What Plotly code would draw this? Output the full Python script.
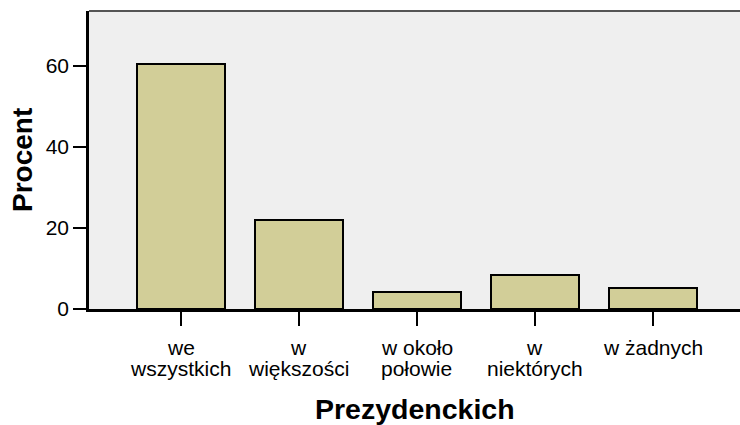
import plotly.graph_objects as go

categories = ["we<br>wszystkich", "w<br>większości", "w około<br>połowie", "w<br>niektórych", "w żadnych"]
values = [60.5, 22.0, 4.2, 8.4, 5.2]
y_ticks = [0, 20, 40, 60]

font = "Liberation Sans, Arial, sans-serif"

fig = go.Figure()
fig.add_trace(go.Bar(
    x=categories, y=values, width=0.75,
    marker=dict(color="#D2CE98", line=dict(color="black", width=2)),
    hoverinfo="skip",
))

fig.update_layout(
    width=740, height=425,
    margin=dict(l=89, r=0, t=11, b=116, autoexpand=False),
    paper_bgcolor="white", plot_bgcolor="#EFEFEF",
    showlegend=False,
    font=dict(family=font, size=21, color="black"),
    bargap=0,
)
fig.update_xaxes(
    type="category", range=[-0.78, 4.74], automargin=False,
    showline=True, linecolor="black", linewidth=2.5,
    ticks="outside", ticklen=14, tickwidth=2, tickcolor="black",
    showgrid=False, zeroline=False, showticklabels=False,
)
fig.update_yaxes(
    range=[0, 73.6], tickvals=y_ticks, automargin=False,
    showline=True, linecolor="black", linewidth=2.5,
    ticks="outside", ticklen=13, tickwidth=2, tickcolor="black",
    showgrid=False, zeroline=False,
    tickfont=dict(size=21),
)

# category labels, one annotation per line (tight line spacing as in reference)
for cat in categories:
    lines = cat.split("<br>")
    for i, line in enumerate(lines):
        fig.add_annotation(
            x=cat, xref="x", y=0, yref="paper",
            text=line, showarrow=False,
            xanchor="center", yanchor="middle",
            yshift=-38 - 21 * i,
            font=dict(size=21, family=font, color="black"),
        )

# axis titles
fig.add_annotation(
    x=0.5, xref="paper", y=0, yref="paper",
    text="<b>Prezydenckich</b>", showarrow=False,
    xanchor="center", yanchor="middle", yshift=-100,
    font=dict(size=28.5, family=font, color="black"),
)
fig.add_annotation(
    x=-67 / 651, xref="paper", y=0.5, yref="paper",
    text="<b>Procent</b>", showarrow=False, textangle=-90,
    xanchor="center", yanchor="middle",
    font=dict(size=28, family=font, color="black"),
)

fig.add_shape(type="line", xref="paper", yref="paper", x0=0, x1=1, y0=1, y1=1,
              line=dict(color="#555555", width=2))
fig.write_html(
    "out.html",
    config={"displayModeBar": False},
    post_script="document.body.style.margin='0';document.body.style.overflow='hidden';",
)
